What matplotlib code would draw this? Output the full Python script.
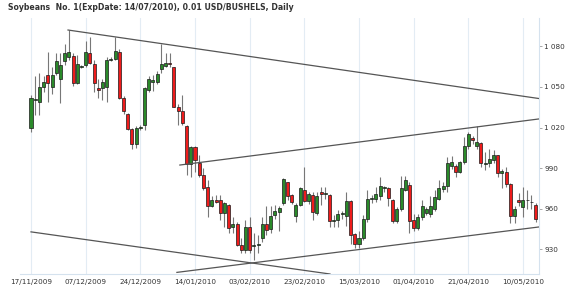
import matplotlib
matplotlib.use('Agg')
import matplotlib.pyplot as plt
from matplotlib.ticker import FuncFormatter

# daily candles
opens = [1020, 1040, 1039, 1050, 1059, 1050, 1060, 1056, 1069, 1072,
         1073, 1053, 1065, 1066, 1075, 1067, 1049, 1049, 1050, 1070,
         1071, 1076, 1042, 1030, 1019, 1008, 1019.5, 1022, 1048, 1053.5,
         1054, 1063, 1065.5, 1068, 1064.5, 1035.5, 1032, 1021, 993, 1005.5,
         993.5, 985, 976, 961.5, 966, 966, 956.5, 962.5, 946.5, 948.5,
         933, 929.5, 946, 932, 933, 938.5, 948.5, 944.5, 955, 957.5,
         964, 979.5, 970, 954.5, 962.5, 973.5, 965.5, 970, 956.5, 972.5,
         971, 970, 951, 951.5, 956, 954.5, 965.5, 941, 934, 938,
         952, 967, 967, 969, 975.5, 975, 966.5, 951, 960, 974,
         977.5, 951.5, 945.5, 954, 957, 956, 960, 967, 974.5, 976.5,
         991.5, 991.5, 987, 994.5, 1006, 1012.5, 1006, 1008.5, 993, 993.5,
         996, 999.5, 986.5, 987, 978, 954.5, 966.5, 961, 966, 965,
         962.5]
highs = [1044, 1058, 1060, 1058, 1076, 1065, 1075, 1075, 1082, 1092,
         1075, 1074, 1066, 1084, 1087, 1070, 1056, 1056, 1072, 1072,
         1087, 1078, 1043, 1031, 1020, 1021, 1022, 1050, 1058, 1059,
         1062, 1082, 1075, 1075, 1065, 1037.5, 1044, 1022, 1006, 1006,
         1000, 990, 981, 969, 970, 970, 965, 963, 954, 950,
         938, 951.5, 954, 941.5, 940.5, 954, 961.5, 961.5, 962.5, 961.5,
         982.5, 980, 971, 964, 976, 990.5, 972.5, 972.5, 972, 976,
         976, 971, 955, 959, 958, 972.5, 966, 942, 943, 955,
         973.5, 970, 976, 983.5, 977, 976, 967, 961, 984, 984,
         980, 956, 956, 966.5, 961, 969, 974, 981, 980, 998.5,
         999, 993, 995, 1013, 1017, 1014, 1021, 1009, 1002, 1004,
         1003, 1000, 989, 991, 979, 962, 971.5, 976, 974, 970,
         964]
lows = [1017, 1029, 1029, 1046, 1039, 1045, 1059, 1038, 1066, 1070,
        1051, 1052, 1064, 1065, 1067, 1046, 1042, 1040, 1039, 1069,
        1070, 1041, 1030, 1018, 1004, 1005, 1018, 1018, 1046, 1047,
        1052, 1060, 1065, 1065, 1035, 1021.5, 1022, 985, 983.5, 987,
        983.5, 974, 954, 961, 964, 951.5, 946.5, 941.5, 941.5, 932,
        927, 927, 927, 922, 927, 935.5, 940.5, 941.5, 952.5, 943,
        962.5, 966, 963, 950, 961.5, 965, 963, 951.5, 955, 962.5,
        967, 946, 946, 946, 952, 947, 934, 931, 930.5, 937,
        950, 964, 965, 966, 972, 961.5, 949, 949, 958, 973,
        942, 943, 944, 951.5, 955, 954, 958, 966, 972, 972,
        989, 983, 986, 993, 1004, 1008, 1004, 991, 988.5, 991,
        994, 983.5, 975, 976, 949, 949, 962, 954, 960, 960,
        950]
closes = [1042, 1041, 1050, 1054, 1053, 1059, 1069, 1066, 1075, 1076,
          1053, 1067, 1065.5, 1076, 1068, 1053, 1048, 1054, 1070, 1071,
          1077, 1042, 1032, 1019, 1008, 1020, 1020.5, 1049, 1056, 1055,
          1059.5, 1067, 1068, 1067, 1035.5, 1032, 1023, 993, 1005.5, 996,
          985, 975, 961.5, 966, 964.5, 956.5, 964, 945.5, 948.5, 933,
          929.5, 946, 929, 933, 934, 948.5, 944, 954.5, 958.5, 960.5,
          981.5, 969.5, 965, 962.5, 975, 965.5, 970.5, 957.5, 969.5, 970.5,
          971.5, 951, 951.5, 956, 956.5, 965.5, 940.5, 934, 938, 952.5,
          967, 967.5, 970.5, 976.5, 976, 967.5, 951, 960, 975, 981,
          951, 945.5, 954, 962, 959.5, 962, 968.5, 975.5, 976.5, 993.5,
          994.5, 987, 994.5, 1006, 1015, 1010.5, 1009.5, 993.5, 994, 996.5,
          999.5, 986.5, 987.5, 978, 954.5, 960, 965, 966.5, 966.5, 964.5,
          952.5]

tick_pos = [0, 13, 26, 39, 52, 65, 78, 91, 104, 117]
tick_labels = ['17/11/2009', '07/12/2009', '24/12/2009', '14/01/2010', '03/02/2010',
               '23/02/2010', '15/03/2010', '01/04/2010', '21/04/2010', '10/05/2010']
y_ticks = [930, 960, 990, 1020, 1050, 1080]

# trend lines: (start index, start value, end index, end value)
trend_lines = [
    (8.8, 1092.2, 120.7, 1041.5),
    (35.4, 992.2, 120.7, 1026.3),
    (34.7, 912.7, 120.7, 946.3),
    (0.0, 942.7, 71.1, 911.5),
]

fig = plt.figure(figsize=(5.7, 2.93), dpi=100)
ax = fig.add_axes([20 / 570, 19 / 293, 518.5 / 570, 256 / 293])

idx = list(range(len(opens)))
up = [c >= o for o, c in zip(opens, closes)]
colors = ['#2a8a2a' if u else '#ee1c1c' for u in up]

ax.vlines(idx, lows, highs, color='#777777', linewidth=0.8, zorder=2)
ax.bar(idx, [c - o for o, c in zip(opens, closes)], bottom=opens, width=0.72,
       color=colors, edgecolor='#1a1a1a', linewidth=0.5, zorder=3)

for x0, y0, x1, y1 in trend_lines:
    ax.plot([x0, x1], [y0, y1], color='#555555', linewidth=0.9, zorder=4)

ax.set_xlim(-11 / 4.205, 507.5 / 4.205)
ax.set_ylim(911.5, 1101.1)

ax.set_xticks(tick_pos)
ax.set_xticklabels(tick_labels)
ax.grid(axis='x', color='#e3ecf4', linewidth=0.8, zorder=0)
ax.tick_params(axis='x', length=0, pad=3.5, labelsize=5.2, labelcolor='#333333')

ax.yaxis.tick_right()
ax.set_yticks(y_ticks)
ax.yaxis.set_major_formatter(FuncFormatter(lambda v, p: '{:,}'.format(int(v)).replace(',', ' ')))
ax.tick_params(axis='y', length=2, width=0.6, color='#999999', pad=2,
               labelsize=5.2, labelcolor='#333333')

for s in ['top', 'left']:
    ax.spines[s].set_visible(False)
for s in ['bottom', 'right']:
    ax.spines[s].set_color('#d5e2ee')
    ax.spines[s].set_linewidth(0.8)

fig.text(8 / 570, 1 - 8 / 293, 'Soybeans  No. 1(ExpDate: 14/07/2010), 0.01 USD/BUSHELS, Daily',
         fontsize=5.6, fontweight='bold', color='#333333', va='center', ha='left')

fig.savefig('out.png', dpi=100)
